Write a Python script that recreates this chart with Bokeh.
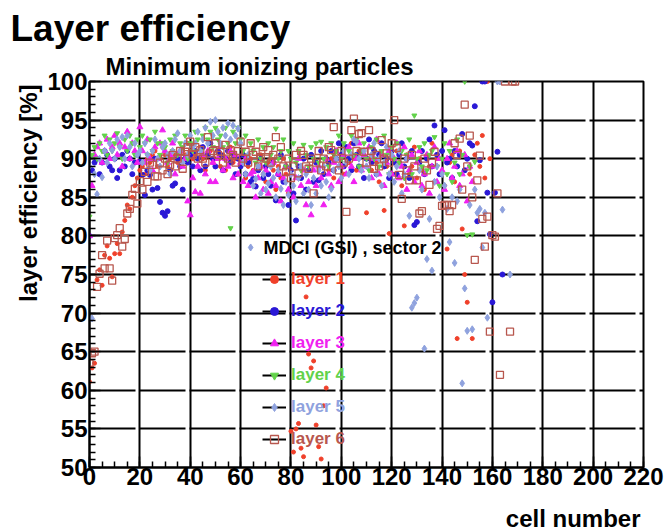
import numpy as np
from bokeh.plotting import figure
from bokeh.models import Label, Legend, LegendItem, SingleIntervalTicker, Range1d, Title
from bokeh.embed import file_html
from bokeh.resources import INLINE

N = np.nan

# efficiency [%] per cell (index = cell number), one list per layer
layer1 = [
    61.1, 62.9, 63.5, 74.3, 75.6, 73.6, 77.5, 78.7, 77.1, 74.7,
    77.7, 79.0, 77.7, 80.5, 82.0, 84.0, 83.5, 85.0, 86.5, 87.5,
    88.5, 89.0, 88.0, 90.0, 89.5, 90.5, 91.0, 89.0, 90.0, 91.5,
    90.5, 89.0, 90.0, 91.0, 90.5, 89.5, 90.0, 91.0, 90.5, 92.0,
    91.0, 90.0, 90.5, 89.0, 91.5, 90.0, 88.5, 90.5, 91.0, 89.5,
    90.0, 91.0, 89.0, 90.5, 88.5, 90.0, 91.5, 89.5, 90.0, 88.0,
    89.5, 90.5, 87.5, 89.0, 90.0, 88.5, 86.5, 89.0, 90.5, 88.0,
    87.0, 89.5, 90.0, 88.5, 86.0, 89.0, 87.5, 90.0, 88.0, 85.5,
    54.7, 52.0, 55.0, 55.7, 52.5, 51.4, 72.1, 64.7, 62.9, 63.8,
    55.5, 52.7, 51.1, 58.0, 60.3, 88.5, 90.0, 87.5, 91.0, 89.0,
    90.5, 88.0, 91.5, 89.5, 92.0, 90.0, 88.5, 91.0, 89.0, 90.5,
    83.0, 90.0, 88.5, 91.0, 89.5, 87.0, 90.5, 83.3, 89.0, 80.3,
    90.0, 88.0, 91.0, 89.5, 86.5, 81.3, 90.5, 88.0, 89.0, 91.5,
    87.5, 90.0, 88.5, 86.0, 90.5, 89.0, 92.0, 87.0, 90.0, 88.0,
    91.0, 86.5, 78.3, 89.5, 90.5, 87.0, 66.7, 91.0, 80.9, 75.0,
    71.4, 88.0, 66.7, 90.5, 92.0, 89.0, 93.0, 87.5, 100.0, 90.0,
]
layer2 = [
    80.0, 88.5, 89.5, 90.0, 88.0, 89.5, 91.0, 90.5, 89.0, 88.5,
    90.0, 87.5, 88.5, 90.5, 89.0, 91.0, 90.0, 88.0, 89.5, 90.5,
    89.6, 87.9, 85.3, 88.5, 87.9, 86.0, 90.0, 86.2, 84.4, 83.0,
    82.6, 83.2, 88.5, 86.5, 86.8, 90.0, 89.0, 86.0, 90.0, 89.5,
    90.5, 89.0, 91.0, 90.0, 88.5, 91.5, 89.0, 90.5, 92.0, 90.0,
    89.0, 91.0, 90.5, 88.5, 90.0, 91.0, 89.5, 90.5, 88.0, 90.0,
    89.0, 90.5, 88.0, 89.5, 87.0, 87.4, 86.4, 88.5, 90.0, 87.5,
    89.0, 88.0, 86.5, 89.5, 84.6, 88.0, 90.5, 87.0, 89.0, 84.0,
    88.5, 85.5, 82.0, 89.0, 87.5, 90.0, 86.0, 88.5, 90.5, 87.0,
    89.5, 87.2, 91.0, 88.0, 90.0, 89.5, 91.0, 88.5, 90.0, 92.0,
    90.5, 89.0, 91.5, 90.0, 88.5, 92.0, 90.5, 89.0, 91.0, 87.5,
    90.0, 92.5, 89.5, 91.0, 88.0, 90.5, 92.0, 89.0, 90.0, 87.5,
    91.0, 89.5, 88.0, 90.5, 92.0, 89.0, 90.0, 87.5, 91.0, 81.4,
    81.8, 89.5, 91.0, 88.0, 90.0, 92.5, 89.0, 94.3, 90.5, 88.0,
    91.0, 93.7, 89.5, 90.0, 87.5, 91.0, 89.0, 90.5, 93.2, 88.5,
    90.0, 92.0, 91.7, 96.8, 81.9, 89.8, 100.0, 100.0, 85.6, 80.2,
    71.4, 85.6, 90.9, N, 75.0,
]
layer3 = [
    80.0, 86.5, 90.5, 91.5, 92.0, 89.5, 91.0, 92.5, 90.0, 91.5,
    93.0, 90.5, 92.0, 89.0, 91.5, 93.5, 90.0, 92.0, 91.0, 89.5,
    94.1, 91.0, 89.5, 92.5, 90.0, 88.5, 91.5, 90.0, 92.0, 93.7,
    91.0, 89.5, 90.5, 92.0, 88.0, 90.5, 91.0, 89.0, 90.0, 84.5,
    82.7, 87.5, 85.7, 89.0, 85.5, 90.5, 88.0, 91.0, 87.0, 89.5,
    87.0, 90.0, 91.5, 88.5, 90.0, 89.0, 91.0, 87.5, 90.5, 88.0,
    89.5, 87.0, 90.0, 86.5, 88.0, 88.3, 85.0, 87.5, 89.0, 86.0,
    88.5, 85.5, 87.0, 89.5, 86.5, 88.0, 84.5, 87.5, 89.0, 86.0,
    88.0, 85.0, 87.5, 90.0, 86.5, 88.5, 84.0, 87.0, 82.7, 88.5,
    86.5, 89.0, 87.5, 84.0, 90.0, 88.0, 86.5, 89.5, 91.0, 87.0,
    89.0, 90.5, 88.0, 91.5, 89.0, 87.0, 90.0, 92.0, 88.5, 90.5,
    89.0, 91.5, 87.5, 90.0, 92.5, 88.0, 90.5, 86.5, 89.5, 91.0,
    88.0, 90.0, 92.0, 87.5, 89.0, 91.5, 86.0, 88.5, 90.5, 87.0,
    89.5, 91.0, 86.5, 88.0, 90.5, 85.5, 89.0, 91.5, 87.0, 90.0,
    88.5, 86.0, 90.0, 92.0, 87.5, 89.0, 91.0, 86.5, 88.0, 90.5,
    84.5, 89.0, 87.0,
]
layer4 = [
    82.5, 90.5, 91.5, 90.0, 92.0, 91.0, 93.0, 90.5, 92.5, 91.0,
    92.0, 93.3, 91.5, 90.0, 92.5, 91.0, 93.0, 92.0, 90.5, 92.5,
    91.5, 93.0, 92.0, 90.5, 92.5, 91.0, 93.5, 92.0, 90.5, 92.0,
    91.5, 89.5, 92.5, 91.0, 93.0, 90.5, 92.0, 91.5, 93.0, 90.0,
    92.0, 91.0, 93.5, 92.5, 91.0, 93.0, 94.0, 92.5, 93.5, 91.5,
    94.0, 92.5, 93.0, 91.5, 94.0, 92.0, 81.0, 93.5, 92.0, 94.0,
    92.5, 91.0, 93.0, 90.5, 92.0, 91.0, 89.5, 92.5, 90.0, 91.5,
    89.5, 92.0, 90.5, 91.5, 93.9, 90.0, 91.0, 92.5, 89.0, 91.0,
    90.0, 92.0, 89.5, 91.0, 88.5, 91.8, 90.5, 89.0, 91.5, 90.0,
    92.0, 89.5, 92.2, 90.0, 91.5, 89.0, 92.0, 90.5, 91.0, 93.0,
    90.0, 92.0, 89.5, 91.0, 93.0, 90.5, 92.5, 89.0, 91.0, 92.0,
    90.0, 88.5, 91.5, 90.0, 92.5, 89.0, 91.0, 93.0, 90.5, 88.0,
    91.5, 90.0, 92.0, 89.5, 91.0, 87.5, 90.5, 92.5, 88.0, 95.6,
    90.0, 91.5, 89.0, 92.0, 88.5, 90.5, 91.0, 92.8, 89.0, 86.5,
    90.0, 92.0, 88.0, 91.0, 87.0, 89.5, 92.5, 88.0, 90.5, 100.0,
    80.1, 89.0, 80.2, 89.6,
]
layer5 = [
    89.0, 69.3, 88.0, 85.4, 90.0, 87.6, 91.0, 89.5, 92.0, 91.1,
    90.0, 92.5, 91.5, 92.8, 90.0, 93.0, 91.5, 89.0, 92.0, 90.5,
    91.0, 89.5, 92.0, 90.5, 88.5, 91.0, 92.5, 90.0, 89.0, 91.5,
    92.0, 90.5, 88.0, 91.0, 92.5, 93.3, 91.0, 89.5, 92.0, 90.5,
    93.0, 91.5, 92.0, 93.5, 91.0, 92.5, 94.0, 92.0, 94.8, 93.0,
    95.0, 93.5, 92.0, 94.0, 93.0, 94.6, 92.5, 94.3, 93.0, 93.9,
    92.0, 89.5, 88.0, 90.5, 78.5, 86.5, 87.4, 89.0, 85.5, 88.0,
    86.0, 86.8, 89.0, 87.5, 85.0, 88.5, 86.1, 84.0, 87.0, 85.3,
    88.0, 86.5, 84.5, 87.5, 89.0, 85.5, 88.0, 86.0, 84.0, 87.5,
    85.5, 88.5, 86.5, 89.0, 87.0, 85.0, 86.1, 88.5, 90.0, 89.0,
    87.5, 91.0, 89.5, 88.0, 90.5, 92.5, 92.2, 90.0, 88.5, 91.0,
    89.0, 87.5, 90.5, 92.0, 88.0, 90.0, 86.5, 89.5, 91.5, 88.0,
    90.5, 87.0, 89.0, 91.0, 85.5, 88.0, 90.0, 82.6, 70.7, 71.3,
    72.0, 88.5, 86.0, 65.4, 77.0, 82.2, 75.5, 87.0, 89.0, 85.0,
    88.0, 86.5, 83.5, 79.2, 85.0, 76.5, 84.5, 86.0, 60.9, 73.2,
    67.7, 84.0, 67.9, 86.0, 83.0, 83.5, 78.5, 83.0, 69.4, N,
    N, N, 100.0, 100.0, 83.4, N, N, 75.0,
]
layer6 = [
    63.5, 64.8, 65.0, 73.4, 75.1, 77.5, 75.8, 79.4, 75.8, 74.2,
    79.7, 80.1, 81.0, 78.6, 79.6, 82.9, 83.5, 85.3, 86.1, 84.2,
    87.1, 86.0, 88.3, 87.0, 89.5, 89.2, 87.7, 87.7, 89.5, 88.5,
    90.0, 88.0, 89.2, 90.5, 89.0, 90.0, 91.0, 88.7, 90.9, 91.5,
    92.2, 90.5, 91.5, 90.0, 91.1, 90.0, 89.5, 92.8, 90.7, 91.0,
    92.0, 90.5, 90.9, 89.5, 91.8, 90.0, 91.1, 90.5, 89.5, 91.0,
    92.2, 90.0, 90.9, 89.5, 92.0, 90.5, 90.9, 89.0, 90.2, 91.5,
    90.0, 91.1, 89.5, 90.5, 92.8, 90.0, 91.5, 89.0, 88.3, 90.0,
    87.5, 89.0, 90.5, 88.1, 91.0, 90.5, 89.0, 88.7, 90.0, 85.5,
    89.5, 91.0, 88.5, 90.0, 89.0, 91.5, 91.1, 94.1, 90.0, 88.5,
    91.0, 89.5, 83.1, 90.0, 93.7, 95.2, 91.0, 93.2, 93.3, 90.9,
    89.5, 93.7, 91.0, 88.7, 90.5, 89.0, 92.4, 90.0, 90.7, 89.5,
    92.0, 95.0, 91.4, 87.9, 84.8, 90.0, 88.5, 87.2, 90.5, 89.0,
    87.2, 82.9, 83.2, 90.0, 88.5, 86.6, 89.5, 90.9, 80.9, 81.3,
    83.9, 84.0, 84.0, 83.2, 84.0, 92.0, 90.5, 92.6, 86.0, 97.0,
    89.0, 93.0, 85.0, 76.9, 87.2, 90.4, 82.2, 78.6, 82.5, 67.6,
    80.1, 79.9, 85.5, 62.0, N, 100.0, N, 67.6, 100.0, 100.0,
]

layer_names = ["layer 1", "layer 2", "layer 3", "layer 4", "layer 5", "layer 6"]
layer_colors = ["#f0402a", "#2a18d6", "#f020f0", "#62d24a", "#8fa2de", "#b8574e"]
legend_header = "MDCI (GSI) , sector 2"
x_title = "cell number"
y_title = "layer efficiency [%]"

FONT = "Liberation Sans"

p = figure(frame_width=554, frame_height=386,
           min_border_left=89, min_border_right=23,
           min_border_top=81, min_border_bottom=64,
           x_range=Range1d(0, 220), y_range=Range1d(50, 100),
           output_backend="svg", toolbar_location=None,
           background_fill_color="white", border_fill_color="white")

p.outline_line_color = "black"
p.outline_line_width = 2

for ax, interval, nminor in ((p.xaxis[0], 20, 4), (p.yaxis[0], 5, 5)):
    ax.ticker = SingleIntervalTicker(interval=interval, num_minor_ticks=nminor)
    ax.axis_line_color = "black"
    ax.axis_line_width = 2
    ax.major_tick_in = 11
    ax.major_tick_out = 0
    ax.minor_tick_in = 6
    ax.minor_tick_out = 0
    ax.major_tick_line_color = "black"
    ax.major_tick_line_width = 1.5
    ax.minor_tick_line_color = "black"
    ax.minor_tick_line_width = 1.5
    ax.major_label_text_font = FONT
    ax.major_label_text_font_style = "bold"
    ax.major_label_text_font_size = "24px"
    ax.major_label_text_color = "black"
p.xaxis.major_label_standoff = 0
p.yaxis.major_label_standoff = 2

# small invisible spacer below the x tick labels, so the x title sits lower
p.xaxis.axis_label = " "
p.xaxis.axis_label_text_font_size = "1px"
p.xaxis.axis_label_standoff = 11

p.xgrid.grid_line_color = "black"
p.xgrid.grid_line_width = 2
p.ygrid.grid_line_color = "black"
p.ygrid.grid_line_width = 2
p.ygrid.grid_line_dash = "46 4"

layers = [layer1, layer2, layer3, layer4, layer5, layer6]
renderers = []
for i, vals in enumerate(layers):
    cells = np.arange(len(vals))
    v = np.array(vals, dtype=float)
    col = layer_colors[i]
    if i == 0:
        r = p.scatter(cells, v, marker="circle", size=4, color=col)
    elif i == 1:
        r = p.scatter(cells, v, marker="circle", size=5, color=col)
    elif i == 2:
        r = p.scatter(cells, v, marker="triangle", size=6, color=col)
    elif i == 3:
        r = p.scatter(cells, v, marker="inverted_triangle", size=5, color=col)
    elif i == 4:
        r = p.scatter(cells, v, marker="diamond", size=7, color=col)
    else:
        r = p.scatter(cells, v, marker="square", size=7, fill_color=None,
                      line_color=col, line_width=1.3)
    renderers.append(r)

# legend: one block per layer so every label keeps its own colour
centers = [279, 311, 343, 375, 407, 439]
for i, name in enumerate(layer_names):
    lr = p.line(x=[N], y=[N], line_color="black", line_width=2)
    leg = Legend(items=[LegendItem(label=name, renderers=[lr, renderers[i]])],
                 location=(173, 467 - centers[i] - 10),
                 padding=0, margin=0, spacing=0, label_standoff=5,
                 glyph_width=24, glyph_height=20, label_height=20,
                 border_line_alpha=0, background_fill_alpha=0,
                 label_text_font=FONT, label_text_font_style="bold",
                 label_text_font_size="17px", label_text_color=layer_colors[i])
    p.add_layout(leg)

p.add_layout(Label(x=174, y=220, x_units="screen", y_units="screen", text=legend_header,
                   text_font=FONT, text_font_style="bold", text_font_size="18px",
                   text_color="black", text_baseline="middle", text_align="left"))

# titles and axis titles
p.add_layout(Title(text="Minimum ionizing particles", align="left", offset=16, standoff=4,
                   text_font=FONT, text_font_style="bold", text_font_size="24px",
                   text_color="black"), "above")
p.add_layout(Title(text="Layer efficiency", align="left", offset=-79, standoff=0,
                   text_font=FONT, text_font_style="bold", text_font_size="37px",
                   text_color="black"), "above")
p.add_layout(Title(text=y_title, align="right", offset=3, standoff=5,
                   text_font=FONT, text_font_style="bold", text_font_size="24px",
                   text_color="black"), "left")
p.add_layout(Title(text=x_title, align="right", offset=3, standoff=0,
                   text_font=FONT, text_font_style="bold", text_font_size="24px",
                   text_color="black"), "below")

open("out.html", "w").write(file_html(p, INLINE))
